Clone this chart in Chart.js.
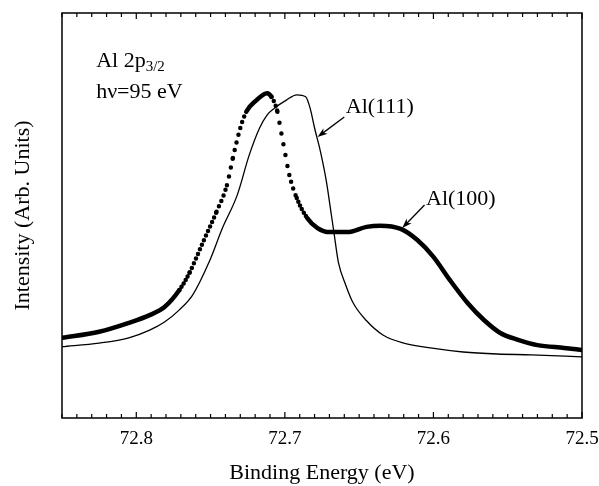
<!DOCTYPE html>
<html>
<head>
<meta charset="utf-8">
<script src="https://cdn.jsdelivr.net/npm/chart.js@4/dist/chart.umd.min.js"></script>
<style>
  html, body { margin: 0; padding: 0; background: #fff; }
  #wrap { width: 599px; height: 486px; }
</style>
</head>
<body>
<div id="wrap"><canvas id="xps"></canvas></div>
<script>
// Al(100) - dotted curve
var energy100 = [72.850, 72.825, 72.805, 72.791, 72.781, 72.771, 72.764, 72.755, 72.746, 72.739,
                 72.735, 72.730, 72.726, 72.719, 72.712, 72.709, 72.705, 72.703, 72.700, 72.697,
                 72.692, 72.685, 72.678, 72.670, 72.658, 72.645, 72.636, 72.622, 72.611, 72.600,
                 72.589, 72.577, 72.566, 72.555, 72.543, 72.530, 72.512, 72.500];
var intensity100 = [19.8, 21.3, 23.5, 25.4, 27.4, 31.6, 36.0, 43.5, 50.9, 57.5,
                    64.2, 71.6, 75.6, 78.5, 80.2, 79.3, 75.6, 71.6, 65.7, 60.0,
                    54.3, 49.4, 46.9, 45.9, 45.9, 47.2, 47.5, 46.7, 44.0, 39.8,
                    34.1, 28.4, 24.2, 21.0, 19.3, 18.0, 17.3, 16.8];

// Al(111) - thin solid curve
var energy111 = [72.850, 72.825, 72.805, 72.791, 72.781, 72.771, 72.762, 72.751, 72.742, 72.732,
                 72.724, 72.717, 72.712, 72.707, 72.699, 72.692, 72.686, 72.683, 72.680, 72.676,
                 72.672, 72.669, 72.667, 72.664, 72.659, 72.654, 72.645, 72.634, 72.620, 72.602,
                 72.580, 72.557, 72.534, 72.500];
var intensity111 = [17.6, 18.5, 19.8, 21.7, 23.7, 26.7, 30.4, 38.5, 46.9, 55.1,
                    64.9, 71.6, 74.8, 76.5, 78.5, 79.8, 79.3, 76.5, 71.6, 65.7,
                    58.3, 50.9, 45.9, 38.5, 32.8, 28.4, 24.0, 20.5, 18.5, 17.3,
                    16.3, 15.8, 15.6, 15.1];

var majorTicks = [72.8, 72.7, 72.6, 72.5];

function toPoints(xs, ys) {
  return xs.map(function (x, i) { return { x: x, y: ys[i] }; });
}

function isMajor(v) {
  return majorTicks.some(function (m) { return Math.abs(m - v) < 1e-6; });
}

var serif = '"Liberation Serif", "Times New Roman", serif';

// text + arrows, placed in data units
var notes = [
  { text: 'Al(111)', x: 72.659, y: 75.3, tail: [72.660, 74.3], tip: [72.678, 69.4] },
  { text: 'Al(100)', x: 72.605, y: 52.6, tail: [72.606, 52.6], tip: [72.621, 46.9] }
];

var framePlugin = {
  id: 'frame',
  afterDraw: function (chart) {
    var ctx = chart.ctx, a = chart.chartArea;
    var xs = chart.scales.x, ys = chart.scales.y;
    ctx.save();
    ctx.strokeStyle = '#000';
    ctx.lineWidth = 1.5;
    ctx.strokeRect(a.left, a.top, a.right - a.left, a.bottom - a.top);

    // inward ticks, bottom and top
    ctx.lineWidth = 1.2;
    xs.ticks.forEach(function (t) {
      var px = xs.getPixelForValue(t.value);
      var len = isMajor(t.value) ? 6 : 4;
      ctx.beginPath();
      ctx.moveTo(px, a.bottom); ctx.lineTo(px, a.bottom - len);
      ctx.moveTo(px, a.top); ctx.lineTo(px, a.top + len);
      ctx.stroke();
    });

    ctx.fillStyle = '#000';
    ctx.textBaseline = 'alphabetic';
    ctx.textAlign = 'left';

    // Al 2p3/2 / hv=95 eV
    var lx = xs.getPixelForValue(72.827);
    var ly1 = ys.getPixelForValue(86.7);
    var ly2 = ys.getPixelForValue(79.0);
    ctx.font = '22px ' + serif;
    ctx.fillText('Al 2p', lx, ly1);
    var w = ctx.measureText('Al 2p').width;
    ctx.font = '15px ' + serif;
    ctx.fillText('3/2', lx + w, ly1 + 4);
    ctx.font = '22px ' + serif;
    ctx.fillText('h\u03bd=95 eV', lx, ly2);

    notes.forEach(function (n) {
      ctx.font = '22px ' + serif;
      ctx.fillText(n.text, xs.getPixelForValue(n.x), ys.getPixelForValue(n.y));
      var x0 = xs.getPixelForValue(n.tail[0]), y0 = ys.getPixelForValue(n.tail[1]);
      var x1 = xs.getPixelForValue(n.tip[0]), y1 = ys.getPixelForValue(n.tip[1]);
      var ang = Math.atan2(y1 - y0, x1 - x0);
      ctx.lineWidth = 1.3;
      ctx.beginPath();
      ctx.moveTo(x0, y0);
      ctx.lineTo(x1 - 6 * Math.cos(ang), y1 - 6 * Math.sin(ang));
      ctx.stroke();
      ctx.beginPath();
      ctx.moveTo(x1, y1);
      ctx.lineTo(x1 - 10 * Math.cos(ang) + 3.5 * Math.sin(ang), y1 - 10 * Math.sin(ang) - 3.5 * Math.cos(ang));
      ctx.lineTo(x1 - 7 * Math.cos(ang), y1 - 7 * Math.sin(ang));
      ctx.lineTo(x1 - 10 * Math.cos(ang) - 3.5 * Math.sin(ang), y1 - 10 * Math.sin(ang) + 3.5 * Math.cos(ang));
      ctx.closePath();
      ctx.fill();
    });
    ctx.restore();
  }
};

var chart = new Chart(document.getElementById('xps'), {
  type: 'line',
  data: {
    datasets: [
      {
        label: 'Al(111)',
        data: toPoints(energy111, intensity111),
        borderColor: '#000',
        borderWidth: 1.3,
        pointRadius: 0,
        cubicInterpolationMode: 'monotone'
      },
      {
        label: 'Al(100)',
        data: toPoints(energy100, intensity100),
        borderColor: '#000',
        borderWidth: 4.5,
        borderCapStyle: 'round',
        borderJoinStyle: 'round',
        pointRadius: 0,
        cubicInterpolationMode: 'monotone',
        segment: {
          // steep parts show separate dots like the measured points
          borderDash: function (c) {
            var dx = Math.abs(c.p1.x - c.p0.x), dy = Math.abs(c.p1.y - c.p0.y);
            var s = dy / Math.max(dx, 0.01);
            if (s < 1.5) return undefined;
            return [0, Math.round(2 * Math.hypot(1, s))];
          }
        }
      }
    ]
  },
  options: {
    responsive: true,
    maintainAspectRatio: false,
    animation: false,
    layout: { padding: { left: 0, right: 17, top: 13, bottom: 0 } },
    plugins: { legend: { display: false }, tooltip: { enabled: false } },
    scales: {
      x: {
        type: 'linear',
        reverse: true,
        min: 72.5,
        max: 72.85,
        grid: { display: false },
        border: { display: false },
        ticks: {
          stepSize: 0.01,
          autoSkip: false,
          maxRotation: 0,
          padding: 2,
          color: '#000',
          font: { family: serif, size: 19 },
          callback: function (v) { return isMajor(v) ? v.toFixed(1) : ''; }
        },
        title: {
          display: true,
          text: 'Binding Energy (eV)',
          color: '#000',
          font: { family: serif, size: 22 },
          padding: { top: 0, bottom: 0 }
        },
        afterFit: function (s) {
          s.height = 68;
          s.paddingLeft = 0;
          s.paddingRight = 0;
        }
      },
      y: {
        min: 0,
        max: 100,
        grid: { display: false },
        border: { display: false },
        ticks: { display: false },
        title: {
          display: true,
          text: 'Intensity (Arb. Units)',
          color: '#000',
          font: { family: serif, size: 22 },
          padding: { top: 10, bottom: 0 }
        },
        afterFit: function (s) { s.width = 62; }
      }
    }
  },
  plugins: [framePlugin]
});
</script>
</body>
</html>
